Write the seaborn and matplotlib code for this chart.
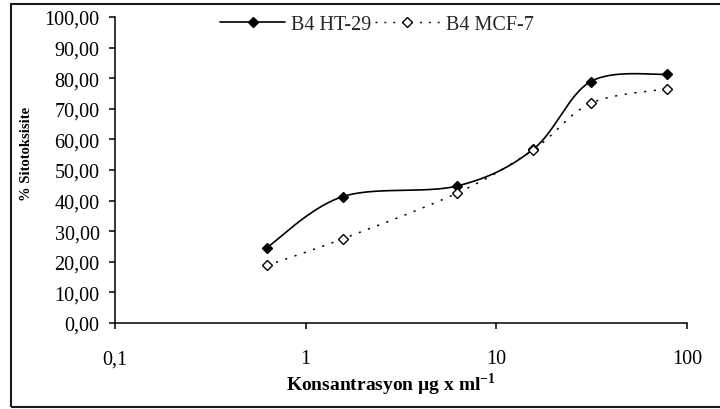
import numpy as np
import pandas as pd
import matplotlib
matplotlib.use("Agg")
import matplotlib.pyplot as plt
from matplotlib.lines import Line2D
from matplotlib.patches import Rectangle
from matplotlib.ticker import NullLocator, FixedLocator, FixedFormatter
import seaborn as sns

# Concentrations (µg/ml) and cytotoxicity (%) for the two cell lines
concentration = [0.625, 1.5625, 6.25, 15.625, 31.25, 78.125]
ht29 = [24.6, 41.3, 44.8, 56.8, 78.9, 81.3]
mcf7 = [18.8, 27.5, 42.5, 56.6, 71.8, 76.5]
series_names = ["B4 HT-29", "B4 MCF-7"]

x_ticks = [0.1, 1, 10, 100]
x_tick_labels = ["0,1", "1", "10", "100"]
y_ticks = list(range(0, 101, 10))


def smooth(xs, ys, n=40):
    """Catmull-Rom style cubic Bezier through the points in (log10 x, y)."""
    u = np.log10(np.asarray(xs, float))
    v = np.asarray(ys, float)
    P = np.column_stack([u, v])
    out = []
    for i in range(len(P) - 1):
        p0 = P[i - 1] if i > 0 else P[i]
        p1, p2 = P[i], P[i + 1]
        p3 = P[i + 2] if i + 2 < len(P) else P[i + 1]
        c1 = p1 + (p2 - p0) / 6.0
        c2 = p2 - (p3 - p1) / 6.0
        t = np.linspace(0, 1, n)[:, None]
        seg = ((1 - t) ** 3) * p1 + 3 * ((1 - t) ** 2) * t * c1 \
            + 3 * (1 - t) * t ** 2 * c2 + t ** 3 * p2
        out.append(seg if i == 0 else seg[1:])
    pts = np.vstack(out)
    return 10 ** pts[:, 0], pts[:, 1]


sns.set_theme(style="white")
plt.rcParams["font.family"] = ["Liberation Serif", "DejaVu Serif"]
plt.rcParams["mathtext.fontset"] = "custom"
plt.rcParams["mathtext.rm"] = "Liberation Serif"
plt.rcParams["mathtext.bf"] = "Liberation Serif:bold"

W, H = 720, 410
fig = plt.figure(figsize=(W / 100, H / 100), dpi=100)
ax = fig.add_axes([115 / W, 1 - 324 / H, (687 - 115) / W, (324 - 18) / H])

# Smoothed curves
hx, hy = smooth(concentration, ht29)
mx, my = smooth(concentration, mcf7)
curves = pd.concat([
    pd.DataFrame({"x": hx, "y": hy, "s": series_names[0]}),
    pd.DataFrame({"x": mx, "y": my, "s": series_names[1]}),
])
sns.lineplot(data=curves[curves.s == series_names[0]], x="x", y="y",
             sort=False, estimator=None, color="black", linewidth=1.2,
             ax=ax, legend=False)
ax.plot(concentration, ht29, linestyle="none", marker="D", markersize=5.5,
        markerfacecolor="black", markeredgecolor="black", zorder=4)
sns.lineplot(data=curves[curves.s == series_names[1]], x="x", y="y",
             sort=False, estimator=None, color="black", linewidth=1.1,
             dashes=False, ax=ax, legend=False)
ax.lines[-1].set_linestyle((0, (1.4, 5.0)))
ax.plot(concentration, mcf7, linestyle="none", marker="D", markersize=5.5,
        markerfacecolor="white", markeredgecolor="black",
        markeredgewidth=1.0, zorder=5)

# Axes
ax.set_xscale("log")
ax.set_xlim(0.1, 100)
ax.set_ylim(0, 100)
ax.xaxis.set_major_locator(FixedLocator(x_ticks))
ax.xaxis.set_major_formatter(FixedFormatter(x_tick_labels))
ax.xaxis.set_minor_locator(NullLocator())
ax.set_yticks(y_ticks)
ax.set_yticklabels([f"{v:.2f}".replace(".", ",") for v in y_ticks])

for side in ["top", "right"]:
    ax.spines[side].set_visible(False)
for side in ["left", "bottom"]:
    ax.spines[side].set_linewidth(1.1)
    ax.spines[side].set_color("black")

ax.tick_params(axis="both", which="major", direction="out", length=4,
               width=1.1, color="black", labelsize=14.5, labelcolor="black")
ax.tick_params(axis="x", pad=15, bottom=True)
ax.tick_params(axis="y", pad=7, left=True)

ax.set_xlabel(r"Konsantrasyon µg x ml$^{\mathbf{-1}}$", fontsize=14,
              fontweight="bold", color="black")
ax.xaxis.set_label_coords((391 - 115) / 572, (324 - 371) / 306)
ax.set_ylabel("% Sitotoksisite", fontsize=10.5, fontweight="bold",
              color="black")
ax.yaxis.label.set_rotation_mode("default")
ax.yaxis.label.set_verticalalignment("center")
ax.yaxis.set_label_coords((27 - 115) / 572, (324 - 154) / 306)

# Legend
handles = [
    Line2D([], [], color="black", linewidth=1.2, marker="D", markersize=5,
           markerfacecolor="black", markeredgecolor="black"),
    Line2D([], [], color="black", linewidth=1.0, linestyle=(0, (1.4, 5.0)),
           marker="D", markersize=5, markerfacecolor="white",
           markeredgecolor="black"),
]
fig.legend(handles, series_names, loc="center", ncol=2,
           bbox_to_anchor=(377 / W, 1 - 25 / H), frameon=False,
           fontsize=14.5, handlelength=3.2, handletextpad=0.3,
           columnspacing=0.2, borderpad=0, borderaxespad=0)

# Outer frame of the figure
fig.patches.append(Rectangle((11 / W, 2 / H), 1.0, 1 - 7 / H,
                             transform=fig.transFigure, fill=False,
                             edgecolor="#1a1a1a", linewidth=1.5))

fig.savefig("out.png", dpi=100)
